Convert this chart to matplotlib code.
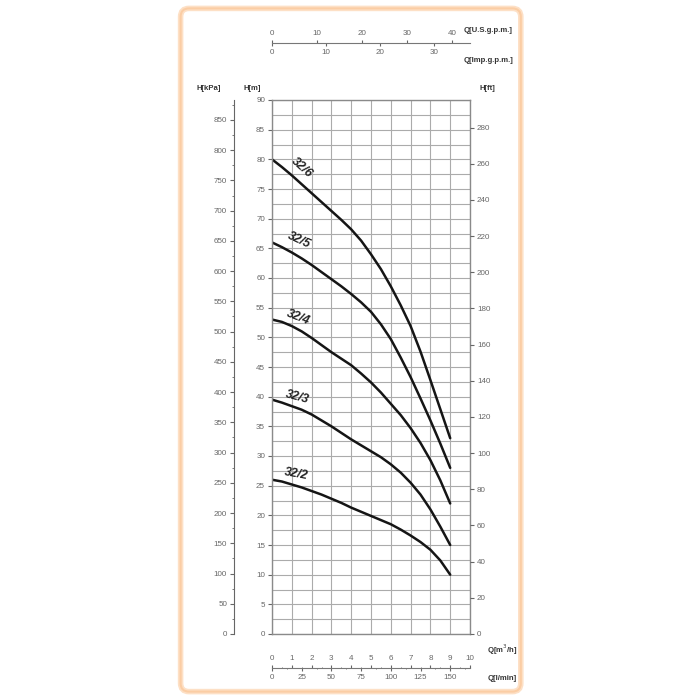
import numpy as np
import matplotlib
matplotlib.use("Agg")
import matplotlib.pyplot as plt
from matplotlib.patches import FancyBboxPatch
from matplotlib.ticker import MultipleLocator

plt.rcParams['font.family'] = ['Liberation Sans', 'DejaVu Sans']

# pump curves, flow Q [m3/h] vs head H [m]
q = [0, 0.5, 1, 1.5, 2, 2.5, 3, 3.5, 4, 4.5, 5, 5.5, 6, 6.5, 7, 7.5, 8, 8.5, 9]
h_32_6 = [80, 78.7, 77.3, 75.8, 74.3, 72.8, 71.3, 69.8, 68.2, 66.3, 64.0, 61.5, 58.6, 55.4, 51.9, 47.6, 42.8, 37.9, 33]
h_32_5 = [66, 65.2, 64.3, 63.3, 62.2, 61.0, 59.8, 58.6, 57.3, 55.9, 54.3, 52.2, 49.7, 46.6, 43.3, 39.7, 36.0, 32.1, 28]
h_32_4 = [53, 52.6, 51.9, 51.0, 49.9, 48.7, 47.5, 46.4, 45.3, 43.9, 42.4, 40.7, 38.8, 36.9, 34.7, 32.2, 29.3, 25.9, 22]
h_32_3 = [39.5, 39.0, 38.4, 37.8, 37.0, 36.0, 35.0, 33.9, 32.8, 31.8, 30.8, 29.8, 28.6, 27.2, 25.5, 23.5, 21.0, 18.1, 15]
h_32_2 = [26, 25.7, 25.2, 24.7, 24.1, 23.5, 22.8, 22.1, 21.3, 20.6, 19.9, 19.2, 18.5, 17.6, 16.6, 15.5, 14.2, 12.4, 10]
names = ["32/6", "32/5", "32/4", "32/3", "32/2"]
label_pos = [(1.5, 78.6), (1.35, 66.3), (1.3, 53.3), (1.3, 39.9), (1.2, 27.0)]
label_rot = [-42, -25, -21, -15, -10]

grey = "#666666"
gridc = "#ababab"
fs = 5.8

fig = plt.figure(figsize=(7, 7), dpi=100)

# orange rounded frame
frame = FancyBboxPatch((0.258, 0.012), 0.486, 0.976, boxstyle="round,pad=0,rounding_size=0.012",
                       transform=fig.transFigure, fill=False, edgecolor="#fde0c6", lw=4)
fig.patches.append(frame)
frame2 = FancyBboxPatch((0.258, 0.012), 0.486, 0.976, boxstyle="round,pad=0,rounding_size=0.012",
                        transform=fig.transFigure, fill=False, edgecolor="#fbcda4", lw=1.5)
fig.patches.append(frame2)

L, B, W, H = 272/700, 1-634/700, 198/700, 534/700
ax = fig.add_axes([L, B, W, H])
ax.set_xlim(0, 10)
ax.set_ylim(0, 90)
ax.xaxis.set_major_locator(MultipleLocator(1))
ax.yaxis.set_major_locator(MultipleLocator(5))
ax.yaxis.set_minor_locator(MultipleLocator(2.5))
ax.grid(True, which="both", color=gridc, lw=0.8)
ax.set_xticklabels([])
ax.tick_params(axis="x", length=0)
ax.tick_params(axis="y", which="major", length=3, labelsize=fs, labelcolor=grey, color=grey, pad=2)
ax.tick_params(axis="y", which="minor", length=0)
for s in ax.spines.values():
    s.set_color("#8a8a8a")
    s.set_linewidth(1)

for hh, n, p, r in zip([h_32_6, h_32_5, h_32_4, h_32_3, h_32_2], names, label_pos, label_rot):
    ax.plot(q, hh, color="#151515", lw=1.8, solid_capstyle="round", solid_joinstyle="round")
    ax.text(p[0], p[1], n, rotation=r, ha="center", va="center", fontsize=8.8,
            fontweight="bold", style="italic", color="#222222")

# ft axis on the right
ax_ft = ax.twinx()
ax_ft.set_ylim(0, 90/0.3048)
ax_ft.yaxis.set_major_locator(MultipleLocator(20))
ax_ft.tick_params(axis="y", length=3, labelsize=fs, labelcolor=grey, color=grey, pad=2)
for s in ax_ft.spines.values():
    s.set_visible(False)

# kPa axis on the left
ax_k = fig.add_axes([234/700, B, 0.0001, H])
ax_k.set_ylim(0, 90*9.81)
ax_k.yaxis.set_minor_locator(MultipleLocator(25))
ax_k.set_xticks([])
for k in ["top", "right", "bottom"]:
    ax_k.spines[k].set_visible(False)
ax_k.spines["left"].set_color("#666666")
ax_k.set_yticks(np.arange(0, 851, 50))
ax_k.tick_params(axis="y", which="major", length=3, labelsize=fs, labelcolor=grey, color=grey, pad=2)
ax_k.tick_params(axis="y", which="minor", length=1.5, color=grey)

# bottom flow scale
ax_b = fig.add_axes([L, 1-668/700, W, 0.0001])
ax_b.set_xlim(0, 10)
ax_b.set_yticks([])
for k in ["top", "left", "right"]:
    ax_b.spines[k].set_visible(False)
ax_b.spines["bottom"].set_color("#777777")
ax_b.xaxis.set_major_locator(MultipleLocator(1))
ax_b.xaxis.set_minor_locator(MultipleLocator(0.5))
ax_b.tick_params(axis="x", which="both", top=True, bottom=False, labeltop=True, labelbottom=False,
                 length=2, labelsize=fs, labelcolor=grey, color=grey, pad=2)
ax_b.tick_params(axis="x", which="minor", length=1)
sb = ax_b.secondary_xaxis("bottom", functions=(lambda x: x*1000/60, lambda x: x*60/1000))
sb.set_xticks(np.arange(0, 151, 25))
sb.xaxis.set_minor_locator(MultipleLocator(12.5))
sb.tick_params(axis="x", which="major", length=2, labelsize=fs, labelcolor=grey, color=grey, pad=2)
sb.tick_params(axis="x", which="minor", length=1, color=grey)
sb.spines["bottom"].set_visible(False)

# top flow scale
ax_t = fig.add_axes([L, 1-43/700, W, 0.0001])
ax_t.set_xlim(0, 10*4.403)
ax_t.set_yticks([])
for k in ["top", "left", "right"]:
    ax_t.spines[k].set_visible(False)
ax_t.spines["bottom"].set_color("#777777")
ax_t.set_xticks(np.arange(0, 41, 10))
ax_t.tick_params(axis="x", top=True, bottom=False, labeltop=True, labelbottom=False,
                 length=2, labelsize=fs, labelcolor=grey, color=grey, pad=2)
st = ax_t.secondary_xaxis("bottom", functions=(lambda x: x*0.8327, lambda x: x/0.8327))
st.set_xticks(np.arange(0, 31, 10))
st.tick_params(axis="x", length=2, labelsize=fs, labelcolor=grey, color=grey, pad=2)
st.spines["bottom"].set_visible(False)

# unit labels
lab = dict(fontsize=5.6, color="#333333", fontweight="bold")
fig.text(209/700, 1-88/700, "H[kPa]", ha="center", va="center", **lab)
fig.text(252/700, 1-88/700, "H[m]", ha="center", va="center", **lab)
fig.text(487/700, 1-88/700, "H[ft]", ha="center", va="center", **lab)
fig.text(513/700, 1-30/700, "Q[U.S.g.p.m.]", ha="right", va="center", **lab)
fig.text(513/700, 1-61/700, "Q[Imp.g.p.m.]", ha="right", va="center", **lab)
fig.text(502/700, 1-650/700, "Q[m$^3$/h]", ha="center", va="center", **lab)
fig.text(502/700, 1-678/700, "Q[l/min]", ha="center", va="center", **lab)

fig.savefig("out.png", dpi=100, facecolor="white")
